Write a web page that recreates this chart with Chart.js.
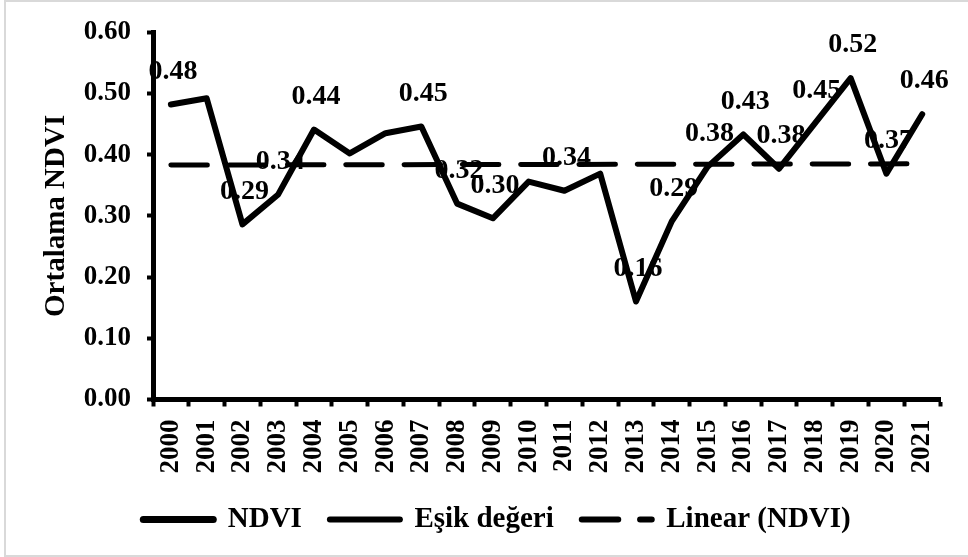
<!DOCTYPE html>
<html><head><meta charset="utf-8">
<script src="https://cdn.jsdelivr.net/npm/chart.js@4.4.1/dist/chart.umd.min.js"></script>
<style>
html,body{margin:0;padding:0;background:#fff;overflow:hidden;}
#wrap{position:relative;width:968px;height:557px;}
#frame{position:absolute;left:4px;top:0;width:972px;height:557px;border:2px solid #d9d9d9;box-sizing:border-box;pointer-events:none;}
canvas{display:block;}
</style></head><body>
<div id="wrap"><canvas id="c" width="968" height="557"></canvas><div id="frame"></div></div>
<script>
// ---- data ----
const years = ['2000','2001','2002','2003','2004','2005','2006','2007','2008','2009','2010',
               '2011','2012','2013','2014','2015','2016','2017','2018','2019','2020','2021'];
const ndviValues = [0.482,0.492,0.286,0.335,0.441,0.402,0.435,0.446,0.320,0.296,0.356,
                    0.341,0.369,0.160,0.291,0.380,0.433,0.377,0.451,0.525,0.369,0.466];
const ndviLabels = ['0.48','','0.29','0.34','0.44','','','0.45','0.32','0.30','',
                    '0.34','','0.16','0.29','0.38','0.43','0.38','0.45','0.52','0.37','0.46'];
const esikValues = [null,null,null,null,null,null,null,null,null,null,null,
                    null,null,null,null,null,null,null,null,null,null,null];
const trendValues = [0.383,null,null,null,null,null,null,null,null,null,null,
                     null,null,null,null,null,null,null,null,null,null,0.385];
const yMin = 0, yMax = 0.6, yStep = 0.1;
const yTitle = 'Ortalama NDVI';
const seriesNames = ['NDVI', 'Eşik değeri', 'Linear (NDVI)'];

const FONT = "'Liberation Serif','Times New Roman',serif";
Chart.defaults.font.family = FONT;
Chart.defaults.font.weight = 'bold';
Chart.defaults.color = '#000';

const labelPlugin = {
  id: 'pointLabels',
  afterDatasetsDraw(chart) {
    const meta = chart.getDatasetMeta(0);
    const ctx = chart.ctx;
    ctx.save();
    ctx.font = "bold 28px " + FONT;
    ctx.fillStyle = '#000';
    ctx.textAlign = 'center';
    ctx.textBaseline = 'middle';
    meta.data.forEach((pt, i) => {
      const t = ndviLabels[i];
      if (t) ctx.fillText(t, pt.x + 2, pt.y - 33);
    });
    ctx.restore();
  }
};

new Chart(document.getElementById('c'), {
  type: 'line',
  data: {
    labels: years,
    datasets: [
      { label: seriesNames[0], data: ndviValues, borderColor: '#000', borderWidth: 6,
        borderCapStyle: 'round', borderJoinStyle: 'round', pointRadius: 0, tension: 0, order: 1 },
      { label: seriesNames[1], data: esikValues, borderColor: '#000', borderWidth: 5,
        borderCapStyle: 'round', pointRadius: 0, tension: 0, order: 2 },
      { label: seriesNames[2], data: trendValues, borderColor: '#000', borderWidth: 5,
        borderDash: [36.5, 21.8], borderCapStyle: 'round', spanGaps: true,
        pointRadius: 0, tension: 0, order: 0 }
    ]
  },
  options: {
    responsive: false,
    animation: false,
    devicePixelRatio: 1,
    layout: { padding: { left: 44, right: 18, top: 31, bottom: 13 } },
    plugins: {
      tooltip: { enabled: false },
      legend: {
        position: 'bottom',
        maxHeight: 82.5,
        labels: {
          font: { size: 29, weight: 'bold', family: FONT },
          color: '#000',
          usePointStyle: true,
          pointStyleWidth: 70,
          padding: 28,
          generateLabels(chart) {
            return chart.data.datasets.map((ds, i) => ({
              text: ds.label,
              fillStyle: '#000',
              strokeStyle: ds.borderColor,
              lineWidth: i === 0 ? 7 : 6,
              lineCap: 'round',
              lineDash: ds.borderDash || [],
              lineDashOffset: 0,
              pointStyle: 'line',
              fontColor: '#000',
              hidden: false,
              datasetIndex: i
            }));
          }
        }
      }
    },
    scales: {
      x: {
        offset: true,
        afterFit(scale) { scale.height = 77.5; },
        grid: { offset: true, drawOnChartArea: false, drawTicks: true, tickLength: 7,
                tickWidth: 4, tickColor: '#000' },
        border: { display: true, color: '#000', width: 5 },
        ticks: { minRotation: 90, maxRotation: 90, autoSkip: false, padding: 13,
                 font: { size: 27, weight: 'bold', family: FONT }, color: '#000' }
      },
      y: {
        min: yMin, max: yMax,
        afterFit(scale) { scale.width = 109; },
        grid: { drawOnChartArea: false, drawTicks: true, tickLength: 6, tickWidth: 4, tickColor: '#000' },
        border: { display: true, color: '#000', width: 5 },
        ticks: { stepSize: yStep, padding: 16, callback: v => Number(v).toFixed(2),
                 font: { size: 27, weight: 'bold', family: FONT }, color: '#000' },
        title: { display: true, text: yTitle, color: '#000', padding: { top: -2, bottom: 0 },
                 font: { size: 29, weight: 'bold', family: FONT, lineHeight: 1 } }
      }
    }
  },
  plugins: [labelPlugin]
});
</script>
</body></html>
